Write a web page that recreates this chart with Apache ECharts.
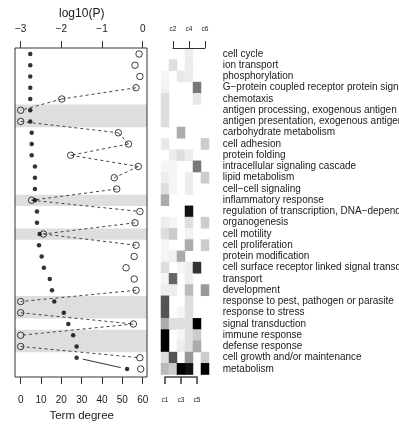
<!DOCTYPE html>
<html>
<head>
<meta charset="utf-8">
<script src="https://cdn.jsdelivr.net/npm/echarts@6/dist/echarts.min.js"></script>
<style>
  html, body { margin: 0; padding: 0; background: #fff; }
  #chart { width: 399px; height: 428px; }
</style>
</head>
<body>
<div id="chart"></div>
<script>
// GO 术语，从上到下
const rowLabels = [
  'cell cycle',
  'ion transport',
  'phosphorylation',
  'G\u2212protein coupled receptor protein signaling pathway',
  'chemotaxis',
  'antigen processing, exogenous antigen via MHC class II',
  'antigen presentation, exogenous antigen',
  'carbohydrate metabolism',
  'cell adhesion',
  'protein folding',
  'intracellular signaling cascade',
  'lipid metabolism',
  'cell\u2212cell signaling',
  'inflammatory response',
  'regulation of transcription, DNA\u2212dependent',
  'organogenesis',
  'cell motility',
  'cell proliferation',
  'protein modification',
  'cell surface receptor linked signal transduction',
  'transport',
  'development',
  'response to pest, pathogen or parasite',
  'response to stress',
  'signal transduction',
  'immune response',
  'defense response',
  'cell growth and/or maintenance',
  'metabolism'
]

// 实心点：Term degree
const termDegree = [4.7, 4.7, 4.7, 4.7, 4.7, 4.7, 4.7, 5.4, 5.4, 5.4, 7, 7, 7, 7, 8, 8, 9.3, 9, 10.3, 11.4,
  14.3, 15.4, 16.5, 21.2, 23.4, 25.8, 27.5, 27.5, 52.3]

// 空心圈：log10(P)
const log10P = [-0.09, -0.19, -0.07, -0.165, -1.99, -3, -3, -0.6, -0.35, -1.77, -0.11, -0.7, -0.64, -2.73,
  -0.07, -0.19, -2.44, -0.165, -0.21, -0.41, -0.21, -0.165, -3, -3, -0.23, -3, -3, -0.07, -0.05]

// 虚线连接的行（从1开始）
const dashedPairs = [[4, 5], [5, 6], [7, 8], [8, 9], [9, 10], [10, 11], [11, 12], [13, 14], [14, 15],
  [16, 17], [17, 18], [22, 23], [24, 25], [25, 26], [27, 28]]
// 实线连接的行
const solidPairs = [[28, 29]]

// 灰色背景带（行范围）
const bandRows = [[6, 7], [14, 14], [17, 17], [23, 24], [26, 27]]

const degreeTicks = [0, 60, 10]
const logTicks = [-3, 0, 1]
const colLabels = ['c1', 'c2', 'c3', 'c4', 'c5', 'c6']

// 热图灰度（0 白 ~ 1 黑），每行 c1..c6
const heatRows = [
  [0, 0, 0, 0.07, 0, 0],
  [0, 0.13, 0, 0.07, 0, 0],
  [0.04, 0, 0.09, 0.07, 0, 0],
  [0.05, 0, 0, 0, 0.53, 0],
  [0.13, 0, 0, 0, 0.09, 0],
  [0.13, 0, 0, 0, 0, 0],
  [0.13, 0, 0, 0, 0, 0],
  [0, 0, 0.33, 0, 0, 0],
  [0.09, 0, 0, 0, 0, 0.2],
  [0, 0.07, 0.13, 0.07, 0, 0],
  [0.04, 0.04, 0, 0, 0.53, 0],
  [0.07, 0.04, 0, 0.07, 0, 0.2],
  [0.13, 0.04, 0, 0.07, 0, 0],
  [0.33, 0, 0, 0, 0, 0],
  [0, 0, 0, 0.93, 0, 0],
  [0.07, 0.04, 0, 0.13, 0, 0.2],
  [0.13, 0.2, 0, 0.05, 0, 0],
  [0.04, 0, 0, 0.33, 0, 0.2],
  [0.04, 0.05, 0.33, 0, 0, 0],
  [0.13, 0, 0.04, 0.07, 0.8, 0],
  [0.04, 0.6, 0, 0.07, 0, 0],
  [0.07, 0.07, 0, 0.27, 0, 0.4],
  [0.67, 0, 0, 0.13, 0, 0],
  [0.67, 0, 0.04, 0.13, 0, 0],
  [0.33, 0.13, 0.13, 0.13, 1, 0],
  [1, 0, 0.04, 0.13, 0.2, 0],
  [1, 0, 0.07, 0.13, 0.33, 0],
  [0.13, 0.67, 0, 0.4, 0, 0.2],
  [0.27, 0.2, 1, 0.93, 0, 1]
]

const FONT = '"Liberation Sans", Arial, Helvetica, sans-serif'
const TXT = '#1a1a1a'

function minusFmt(v) {
  return v < 0 ? '\u2212' + (-v) : String(v)
}

function pairData(pairs, values) {
  let out = []
  for (let i = 0; i < pairs.length; i++) {
    let a = pairs[i][0], b = pairs[i][1]
    out.push([values[a - 1], a])
    out.push([values[b - 1], b])
    out.push('-')
  }
  return out
}

let degreeData = termDegree.map((v, i) => [v, i + 1])
let logData = log10P.map((v, i) => [v, i + 1])
let heatData = []
for (let r = 0; r < heatRows.length; r++) {
  for (let c = 0; c < heatRows[r].length; c++) {
    if (heatRows[r][c] > 0) heatData.push([c, r, heatRows[r][c]])
  }
}
let bandAreas = bandRows.map(b => [{yAxis: b[0] - 0.5}, {yAxis: b[1] + 0.5}])

const hiddenY = {type: 'value', min: 0, max: 1, show: false}
const NB = {outerBoundsMode: 'none', containLabel: false}

function drawChart() {
  let myChart = echarts.init(document.getElementById('chart'), null, {renderer: 'canvas'})
  let option = {
    animation: false,
    textStyle: {fontFamily: FONT},
    grid: [
      // 0 左侧点图
      Object.assign({left: 15, top: 48, width: 132, height: 329, show: true, borderColor: '#333', borderWidth: 1, z: 10, backgroundColor: 'transparent'}, NB),
      // 1 左侧坐标轴
      Object.assign({left: 20.7, top: 48, width: 122, height: 329}, NB),
      // 2 热图
      Object.assign({left: 161, top: 48.3, width: 48, height: 326.25}, NB),
      // 3 热图上轴 c2 c4 c6
      Object.assign({left: 173, top: 48, width: 32, height: 329}, NB),
      // 4 热图下轴 c1 c3 c5
      Object.assign({left: 165, top: 48, width: 32, height: 329}, NB)
    ],
    xAxis: [
      {gridIndex: 0, type: 'value', position: 'bottom', min: -2.8, max: 62.1, show: false},
      {gridIndex: 0, type: 'value', position: 'top', min: -3.14, max: 0.105, show: false},
      {
        gridIndex: 1, type: 'value', position: 'bottom',
        min: degreeTicks[0], max: degreeTicks[1], interval: degreeTicks[2],
        axisLine: {show: false, onZero: false},
        axisTick: {show: true, length: 7, lineStyle: {color: '#333'}},
        axisLabel: {fontSize: 10, color: TXT, margin: 18},
        splitLine: {show: false},
        name: 'Term degree', nameLocation: 'middle', nameGap: 30,
        nameTextStyle: {fontSize: 11.5, color: TXT}
      },
      {
        gridIndex: 1, type: 'value', position: 'top',
        min: logTicks[0], max: logTicks[1], interval: logTicks[2],
        axisLine: {show: false, onZero: false},
        axisTick: {show: true, length: 7, lineStyle: {color: '#333'}},
        axisLabel: {fontSize: 10, color: TXT, margin: 13.5, formatter: minusFmt},
        splitLine: {show: false},
        name: 'log10(P)', nameLocation: 'middle', nameGap: 28,
        nameTextStyle: {fontSize: 12, color: TXT}
      },
      {gridIndex: 2, type: 'category', data: colLabels, show: false},
      {
        gridIndex: 3, type: 'value', position: 'top', min: 0, max: 4, interval: 2, z: 6,
        axisLine: {show: true, onZero: false, lineStyle: {color: '#333', width: 1}},
        axisTick: {show: true, length: 7, lineStyle: {color: '#333', width: 1}},
        axisLabel: {fontSize: 6.5, color: TXT, margin: 15, formatter: v => colLabels[v + 1]},
        splitLine: {show: false}
      },
      {
        gridIndex: 4, type: 'value', position: 'bottom', min: 0, max: 4, interval: 2, z: 6,
        axisLine: {show: true, onZero: false, lineStyle: {color: '#444', width: 1.6}},
        axisTick: {show: true, length: 7, lineStyle: {color: '#444', width: 1.6}},
        axisLabel: {fontSize: 6.5, color: TXT, margin: 20, formatter: v => colLabels[v]},
        splitLine: {show: false}
      }
    ],
    yAxis: [
      {gridIndex: 0, type: 'value', inverse: true, min: 0.467, max: 29.71, show: false},
      Object.assign({gridIndex: 1}, hiddenY),
      {
        gridIndex: 2, type: 'category', data: rowLabels, inverse: true, position: 'right',
        axisLine: {show: false}, axisTick: {show: false}, splitLine: {show: false},
        axisLabel: {interval: 0, fontSize: 10, color: TXT, margin: 13.7, align: 'left'}
      },
      Object.assign({gridIndex: 3}, hiddenY),
      Object.assign({gridIndex: 4}, hiddenY)
    ],
    visualMap: {
      type: 'continuous', min: 0, max: 1, show: false, seriesIndex: 4,
      inRange: {color: ['#ffffff', '#000000']}
    },
    series: [
      {
        name: 'solid', type: 'line', xAxisIndex: 0, yAxisIndex: 0,
        data: pairData(solidPairs, termDegree),
        symbol: 'circle', symbolSize: 13, showSymbol: true,
        itemStyle: {color: '#ffffff', borderWidth: 0},
        lineStyle: {color: '#333', width: 1},
        z: 2, silent: true
      },
      {
        name: 'dashed', type: 'line', xAxisIndex: 1, yAxisIndex: 0,
        data: pairData(dashedPairs, log10P),
        showSymbol: false, symbol: 'none',
        lineStyle: {color: '#444', width: 1, type: [3, 3]},
        z: 3, silent: true
      },
      {
        name: 'degree', type: 'scatter', xAxisIndex: 0, yAxisIndex: 0,
        data: degreeData, symbol: 'circle', symbolSize: 4.5,
        itemStyle: {color: '#000'},
        markArea: {silent: true, itemStyle: {color: '#dedede'}, data: bandAreas},
        z: 4
      },
      {
        name: 'log10P', type: 'scatter', xAxisIndex: 1, yAxisIndex: 0,
        data: logData, symbol: 'circle', symbolSize: 6.5,
        itemStyle: {color: 'rgba(0,0,0,0)', borderColor: '#111', borderWidth: 1},
        z: 5
      },
      {
        name: 'heat', type: 'heatmap', xAxisIndex: 4, yAxisIndex: 2,
        data: heatData, itemStyle: {borderWidth: 0}
      }
    ]
  }
  option && myChart.setOption(option)
}

drawChart()
</script>
</body>
</html>
